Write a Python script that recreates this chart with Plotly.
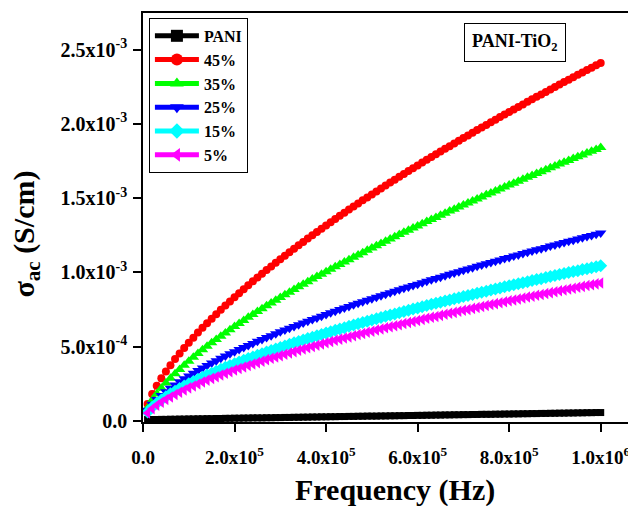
import plotly.graph_objects as go

# Frequency in kHz
freq_khz = [10, 20, 30, 40, 50, 60, 70, 80, 90, 100,
            110, 120, 130, 140, 150, 160, 170, 180, 190, 200,
            210, 220, 230, 240, 250, 260, 270, 280, 290, 300,
            310, 320, 330, 340, 350, 360, 370, 380, 390, 400,
            410, 420, 430, 440, 450, 460, 470, 480, 490, 500,
            510, 520, 530, 540, 550, 560, 570, 580, 590, 600,
            610, 620, 630, 640, 650, 660, 670, 680, 690, 700,
            710, 720, 730, 740, 750, 760, 770, 780, 790, 800,
            810, 820, 830, 840, 850, 860, 870, 880, 890, 900,
            910, 920, 930, 940, 950, 960, 970, 980, 990, 1000]

# sigma_ac in units of 1e-4 S/cm
pani = [0.10, 0.10, 0.10, 0.11, 0.11, 0.12, 0.12, 0.13, 0.13, 0.14,
        0.14, 0.15, 0.15, 0.16, 0.16, 0.17, 0.17, 0.18, 0.18, 0.19,
        0.19, 0.20, 0.20, 0.21, 0.21, 0.21, 0.22, 0.22, 0.23, 0.23,
        0.24, 0.24, 0.25, 0.25, 0.26, 0.26, 0.27, 0.27, 0.28, 0.28,
        0.29, 0.29, 0.30, 0.30, 0.31, 0.31, 0.32, 0.32, 0.33, 0.33,
        0.33, 0.34, 0.34, 0.35, 0.35, 0.36, 0.36, 0.37, 0.37, 0.38,
        0.38, 0.39, 0.39, 0.40, 0.40, 0.41, 0.41, 0.42, 0.42, 0.43,
        0.43, 0.44, 0.44, 0.45, 0.45, 0.45, 0.46, 0.46, 0.47, 0.47,
        0.48, 0.48, 0.49, 0.49, 0.50, 0.50, 0.51, 0.51, 0.52, 0.52,
        0.53, 0.53, 0.54, 0.54, 0.55, 0.55, 0.56, 0.56, 0.57, 0.57]

p45 = [1.15, 1.82, 2.38, 2.88, 3.34, 3.76, 4.17, 4.55, 4.92, 5.27,
       5.61, 5.95, 6.27, 6.58, 6.89, 7.19, 7.48, 7.77, 8.05, 8.33,
       8.60, 8.87, 9.14, 9.40, 9.65, 9.91, 10.16, 10.40, 10.65, 10.89,
       11.12, 11.36, 11.59, 11.83, 12.05, 12.28, 12.51, 12.72, 12.94, 13.16,
       13.38, 13.59, 13.81, 14.02, 14.23, 14.43, 14.64, 14.85, 15.05, 15.25,
       15.45, 15.65, 15.85, 16.05, 16.24, 16.44, 16.63, 16.82, 17.01, 17.20,
       17.39, 17.58, 17.76, 17.95, 18.14, 18.32, 18.50, 18.68, 18.86, 19.04,
       19.22, 19.40, 19.58, 19.76, 19.93, 20.11, 20.28, 20.46, 20.63, 20.80,
       20.97, 21.14, 21.31, 21.48, 21.65, 21.82, 21.98, 22.15, 22.31, 22.48,
       22.65, 22.81, 22.97, 23.13, 23.30, 23.46, 23.62, 23.78, 23.94, 24.10]

p35 = [0.88, 1.39, 1.82, 2.20, 2.55, 2.87, 3.18, 3.47, 3.75, 4.03,
       4.29, 4.54, 4.79, 5.03, 5.26, 5.49, 5.71, 5.93, 6.15, 6.36,
       6.57, 6.77, 6.98, 7.17, 7.37, 7.56, 7.75, 7.94, 8.13, 8.31,
       8.49, 8.67, 8.85, 9.03, 9.20, 9.37, 9.55, 9.72, 9.88, 10.05,
       10.22, 10.38, 10.54, 10.70, 10.86, 11.02, 11.18, 11.33, 11.49, 11.64,
       11.80, 11.95, 12.10, 12.25, 12.40, 12.55, 12.70, 12.84, 12.99, 13.13,
       13.28, 13.42, 13.56, 13.70, 13.85, 13.99, 14.13, 14.26, 14.40, 14.54,
       14.68, 14.81, 14.95, 15.08, 15.22, 15.35, 15.48, 15.62, 15.75, 15.88,
       16.01, 16.14, 16.27, 16.40, 16.53, 16.66, 16.78, 16.91, 17.04, 17.16,
       17.29, 17.42, 17.54, 17.66, 17.79, 17.91, 18.03, 18.16, 18.28, 18.40]

p25 = [0.73, 1.12, 1.44, 1.72, 1.97, 2.21, 2.43, 2.64, 2.84, 3.03,
       3.22, 3.40, 3.57, 3.74, 3.90, 4.06, 4.22, 4.37, 4.52, 4.66,
       4.81, 4.95, 5.09, 5.22, 5.36, 5.49, 5.62, 5.74, 5.87, 6.00,
       6.12, 6.24, 6.36, 6.48, 6.60, 6.71, 6.83, 6.94, 7.05, 7.17,
       7.28, 7.39, 7.50, 7.60, 7.71, 7.82, 7.92, 8.03, 8.13, 8.23,
       8.33, 8.43, 8.53, 8.63, 8.73, 8.83, 8.93, 9.02, 9.12, 9.21,
       9.31, 9.41, 9.50, 9.59, 9.68, 9.78, 9.87, 9.96, 10.05, 10.14,
       10.23, 10.32, 10.41, 10.50, 10.58, 10.67, 10.76, 10.84, 10.93, 11.01,
       11.10, 11.18, 11.27, 11.35, 11.44, 11.52, 11.60, 11.68, 11.77, 11.85,
       11.93, 12.01, 12.09, 12.17, 12.25, 12.33, 12.41, 12.49, 12.57, 12.65]

p15 = [0.60, 0.92, 1.19, 1.42, 1.63, 1.83, 2.01, 2.18, 2.35, 2.51,
       2.66, 2.81, 2.95, 3.09, 3.22, 3.35, 3.48, 3.61, 3.73, 3.85,
       3.97, 4.09, 4.20, 4.31, 4.42, 4.53, 4.64, 4.75, 4.85, 4.95,
       5.05, 5.16, 5.26, 5.35, 5.45, 5.55, 5.64, 5.74, 5.83, 5.92,
       6.01, 6.10, 6.19, 6.28, 6.37, 6.46, 6.54, 6.63, 6.71, 6.80,
       6.88, 6.97, 7.05, 7.13, 7.21, 7.29, 7.37, 7.45, 7.53, 7.61,
       7.69, 7.77, 7.85, 7.92, 8.00, 8.08, 8.15, 8.23, 8.30, 8.38,
       8.45, 8.52, 8.60, 8.67, 8.74, 8.82, 8.89, 8.96, 9.03, 9.10,
       9.17, 9.24, 9.31, 9.38, 9.45, 9.52, 9.58, 9.65, 9.72, 9.79,
       9.86, 9.92, 9.99, 10.06, 10.12, 10.19, 10.25, 10.32, 10.38, 10.45]

p5 = [0.54, 0.82, 1.06, 1.26, 1.45, 1.62, 1.79, 1.94, 2.09, 2.23,
      2.36, 2.49, 2.62, 2.75, 2.87, 2.98, 3.10, 3.21, 3.32, 3.43,
      3.53, 3.63, 3.74, 3.83, 3.93, 4.03, 4.13, 4.22, 4.31, 4.40,
      4.49, 4.58, 4.67, 4.76, 4.85, 4.93, 5.02, 5.10, 5.18, 5.26,
      5.35, 5.43, 5.51, 5.58, 5.66, 5.74, 5.82, 5.89, 5.97, 6.04,
      6.12, 6.19, 6.27, 6.34, 6.41, 6.48, 6.56, 6.63, 6.70, 6.77,
      6.84, 6.91, 6.98, 7.04, 7.11, 7.18, 7.25, 7.31, 7.38, 7.45,
      7.51, 7.58, 7.64, 7.71, 7.77, 7.84, 7.90, 7.96, 8.03, 8.09,
      8.15, 8.21, 8.28, 8.34, 8.40, 8.46, 8.52, 8.58, 8.64, 8.70,
      8.76, 8.82, 8.88, 8.94, 9.00, 9.06, 9.12, 9.17, 9.23, 9.29]

series_names = ["PANI", "45%", "35%", "25%", "15%", "5%"]
series_values = [pani, p45, p35, p25, p15, p5]
series_colors = ["#000000", "#FF0000", "#00FF00", "#0000FF", "#00FFFF", "#FF00FF"]
series_symbols = ["square", "circle", "triangle-up", "triangle-down", "diamond", "triangle-left"]
series_sizes = [7, 8, 10, 10, 10, 10]

x_tickvals = [0, 2e5, 4e5, 6e5, 8e5, 1e6]
x_ticktext = ["0.0", "2.0x10<sup>5</sup>", "4.0x10<sup>5</sup>", "6.0x10<sup>5</sup>",
              "8.0x10<sup>5</sup>", "1.0x10<sup>6</sup>"]
y_tickvals = [0, 5e-4, 1e-3, 1.5e-3, 2e-3, 2.5e-3]
y_ticktext = ["0.0", "5.0x10<sup>-4</sup>", "1.0x10<sup>-3</sup>", "1.5x10<sup>-3</sup>",
              "2.0x10<sup>-3</sup>", "2.5x10<sup>-3</sup>"]

FONT = "Liberation Serif"

freq_hz = [f * 1e3 for f in freq_khz]

fig = go.Figure()
for name, vals, col, sym, sz in zip(series_names, series_values, series_colors,
                                     series_symbols, series_sizes):
    fig.add_trace(go.Scatter(
        x=freq_hz, y=[v * 1e-4 for v in vals], name=name,
        mode="lines+markers",
        line=dict(color=col, width=1),
        marker=dict(symbol=sym, size=sz, color=col, line=dict(width=0)),
    ))

# page body has an 8px margin, so the figure is 8px smaller than the window
fig.update_layout(
    width=628, height=498,
    margin=dict(l=135, r=0, t=5, b=84),
    paper_bgcolor="white", plot_bgcolor="white",
    font=dict(family=FONT, color="black"),
    showlegend=True,
    legend=dict(
        x=0.012, y=0.988, xanchor="left", yanchor="top",
        bordercolor="black", borderwidth=1, bgcolor="white",
        font=dict(family=FONT, size=16, color="black", weight="bold"),
        tracegroupgap=0, itemsizing="constant", itemwidth=44,
    ),
    xaxis=dict(
        range=[0, 1.0771e6], showgrid=False, zeroline=False,
        showline=True, linecolor="black", linewidth=1.5, mirror=True,
        ticks="outside", ticklen=8, tickwidth=1.5, tickcolor="black",
        tickvals=x_tickvals, ticktext=x_ticktext, ticklabelstandoff=9,
        tickfont=dict(family=FONT, size=19, color="black", weight="bold"),
    ),
    yaxis=dict(
        range=[-0.0000067, 0.002746], showgrid=False, zeroline=False,
        showline=True, linecolor="black", linewidth=1.5, mirror=False,
        ticks="outside", ticklen=8, tickwidth=1.5, tickcolor="black",
        tickvals=y_tickvals, ticktext=y_ticktext, ticklabelstandoff=2,
        tickfont=dict(family=FONT, size=20, color="black", weight="bold"),
    ),
    annotations=[
        dict(text="PANI-TiO<sub>2</sub>", xref="paper", yref="paper",
             x=0.7546, y=0.929, xanchor="center", yanchor="middle",
             showarrow=False, bordercolor="black", borderwidth=1, borderpad=7,
             bgcolor="white",
             font=dict(family=FONT, size=18, color="black", weight="bold")),
        dict(text="Frequency (Hz)", xref="paper", yref="paper",
             x=0.511, y=-0.166, xanchor="center", yanchor="middle",
             showarrow=False,
             font=dict(family=FONT, size=30, color="black", weight="bold")),
        dict(text="σ<sub>ac</sub> (S/cm)", xref="paper", yref="paper",
             x=-0.238, y=0.46, xanchor="center", yanchor="middle",
             showarrow=False, textangle=-90,
             font=dict(family=FONT, size=30, color="black", weight="bold")),
    ],
)

fig.write_html("out.html")
